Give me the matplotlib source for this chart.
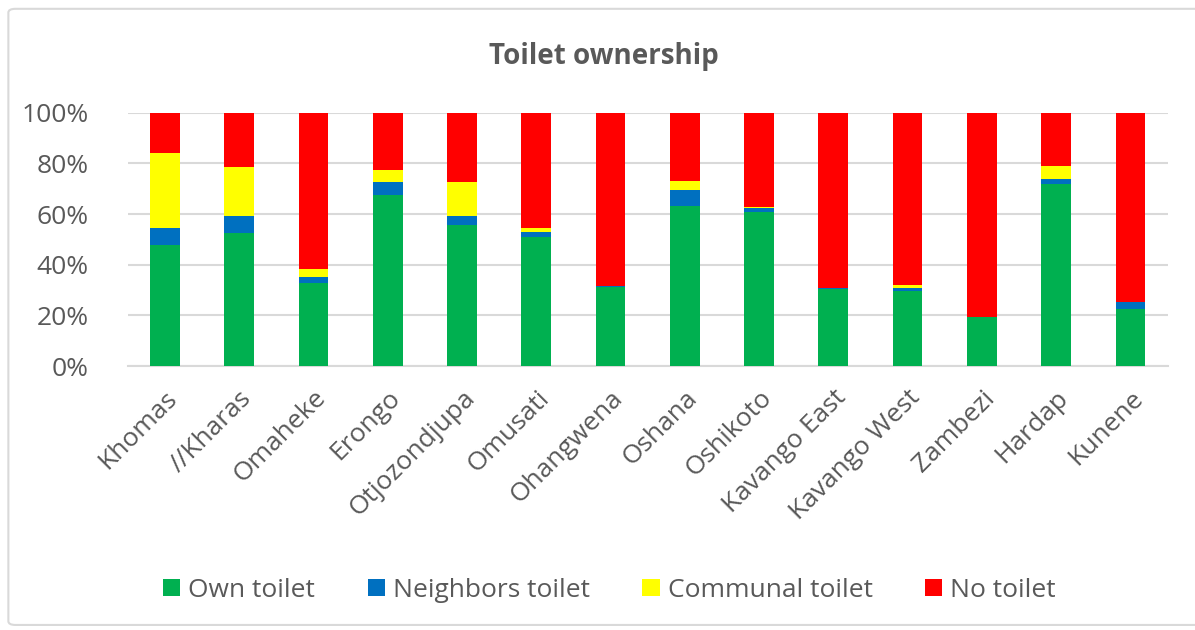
import numpy as np
import matplotlib
matplotlib.use("Agg")
import matplotlib.pyplot as plt
from matplotlib.patches import FancyBboxPatch
from matplotlib.ticker import PercentFormatter

regions = ["Khomas", "//Kharas", "Omaheke", "Erongo", "Otjozondjupa", "Omusati",
           "Ohangwena", "Oshana", "Oshikoto", "Kavango East", "Kavango West",
           "Zambezi", "Hardap", "Kunene"]

# percent of households
own_toilet = [47.8, 52.7, 32.9, 67.6, 55.5, 51.1, 31.3, 63.3, 61.0, 30.4, 29.6, 19.3, 72.0, 22.5]
neighbors_toilet = [6.6, 6.6, 2.1, 5.0, 3.8, 1.7, 0.2, 6.1, 1.3, 0.4, 1.3, 0.1, 1.7, 2.8]
communal_toilet = [29.7, 19.3, 3.4, 4.9, 13.3, 1.7, 0.1, 3.8, 0.5, 0.1, 1.1, 0.0, 5.4, 0.1]
no_toilet = [15.9, 21.4, 61.6, 22.5, 27.4, 45.5, 68.4, 26.8, 37.2, 69.1, 68.0, 80.6, 20.9, 74.6]

series = [("Own toilet", own_toilet, "#00B050"),
          ("Neighbors toilet", neighbors_toilet, "#0070C0"),
          ("Communal toilet", communal_toilet, "#FFFF00"),
          ("No toilet", no_toilet, "#FF0000")]

plt.rcParams["font.family"] = ["Open Sans", "DejaVu Sans"]
txt = "#595959"
grid = "#D9D9D9"

fig = plt.figure(figsize=(11.95, 6.3), dpi=100)
ax = fig.add_axes([0.107, 0.419, 0.870, 0.402])

# outer chart frame
fig.patches.append(FancyBboxPatch((0.007, 0.008), 1.2, 0.978, boxstyle="round,pad=0,rounding_size=0.006",
                                  transform=fig.transFigure, facecolor="none", edgecolor=grid, lw=1.5))

x = np.arange(len(regions))
bottom = np.zeros(len(regions))
for name, vals, col in series:
    vals = np.array(vals)
    ax.bar(x, vals, 0.4, bottom=bottom, color=col, label=name, zorder=3)
    bottom += vals

ax.set_xlim(-0.5, len(regions) - 0.5)
ax.set_ylim(0, 100)
ax.set_yticks(range(0, 101, 20))
ax.yaxis.set_major_formatter(PercentFormatter(decimals=0))
ax.grid(axis="y", color=grid, lw=1.5, zorder=0)
for s in ["top", "right", "left"]:
    ax.spines[s].set_visible(False)
ax.spines["bottom"].set_color(grid)
ax.spines["bottom"].set_linewidth(1.5)
ax.tick_params(length=0, labelsize=19, colors=txt)
ax.tick_params(axis="x", pad=14)
ax.tick_params(axis="y", pad=28)
ax.set_xticks(x)
ax.set_xticklabels(regions, rotation=45, ha="right", rotation_mode="anchor")

fig.text(0.505, 0.91, "Toilet ownership", ha="center", va="center",
         fontsize=20, fontweight="bold", color=txt)

fig.legend(loc="center", bbox_to_anchor=(0.51, 0.063), ncol=4, frameon=False,
           fontsize=19, labelcolor=txt, handlelength=0.65, handleheight=0.65,
           handletextpad=0.3, columnspacing=2.0)

fig.savefig("out.png", dpi=100)
